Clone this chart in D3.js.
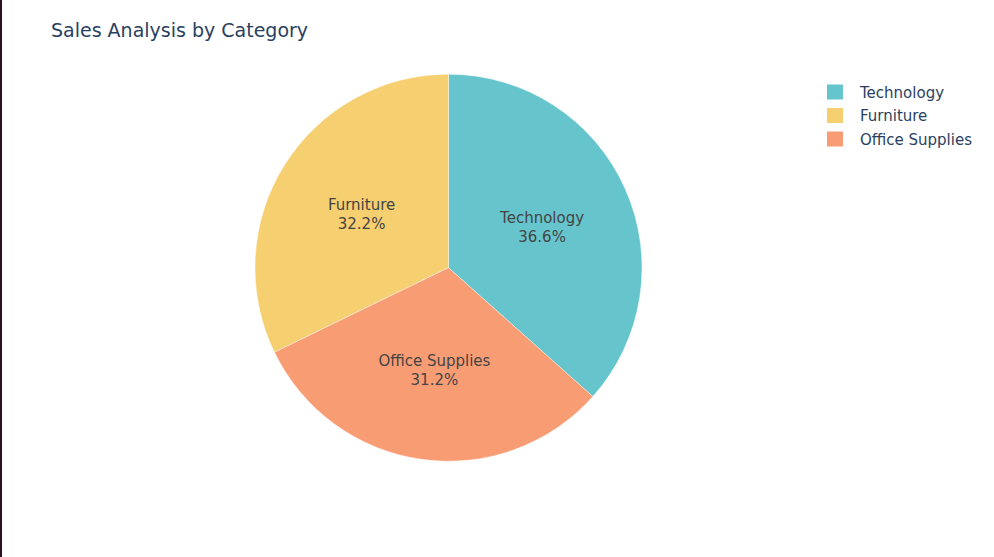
<!DOCTYPE html>
<html>
<head>
<meta charset="utf-8">
<script src="https://cdn.jsdelivr.net/npm/d3@7"></script>
<style>
  html, body { margin: 0; padding: 0; background: #fff; }
  svg { display: block; }
</style>
</head>
<body>
<svg id="main-svg" width="994" height="557"></svg>
<script>
// data, in legend order
var categories = ['Technology', 'Furniture', 'Office Supplies'];
var shares = [36.6, 32.2, 31.2];
var colours = ['#66C5CC', '#F6CF71', '#F89C74'];

var W = 994, H = 557;
var cx = 448.5, cy = 267.7, R = 193.5;
var font = '"DejaVu Sans", Verdana, sans-serif';

var svg = d3.select('#main-svg');

// left border line
svg.append('rect')
    .attr('x', 0).attr('y', 0)
    .attr('width', 2).attr('height', H)
    .attr('fill', '#2e0f1f');

svg.append('text')
    .attr('x', 51).attr('y', 37)
    .attr('font-family', font)
    .attr('font-size', 19)
    .attr('fill', '#2a3f5f')
    .text('Sales Analysis by Category');

var rows = categories.map(function(c, i) {
    return {name: c, value: shares[i], colour: colours[i]};
});

// first slice ends at 12 o'clock, slices go counterclockwise
var total = d3.sum(shares);
var a0 = shares[0] / total * 2 * Math.PI;
var pie = d3.pie()
    .sort(null)
    .value(function(d) { return d.value; })
    .startAngle(a0)
    .endAngle(a0 - 2 * Math.PI);

var arcs = pie(rows);
var arc = d3.arc().innerRadius(0).outerRadius(R);
var labelArc = d3.arc().innerRadius(R * 0.53).outerRadius(R * 0.53);

var g = svg.append('g').attr('transform', 'translate(' + cx + ',' + cy + ')');

g.selectAll('path.slice')
    .data(arcs)
    .enter().append('path')
    .attr('class', 'slice')
    .attr('d', arc)
    .attr('fill', function(d) { return d.data.colour; })
    .attr('stroke', '#fff')
    .attr('stroke-width', 0.4);

var lbl = g.selectAll('text.lbl')
    .data(arcs)
    .enter().append('text')
    .attr('class', 'lbl')
    .attr('text-anchor', 'middle')
    .attr('font-family', font)
    .attr('font-size', 15)
    .attr('fill', '#444');

lbl.append('tspan')
    .attr('x', function(d) { return labelArc.centroid(d)[0]; })
    .attr('y', function(d) { return labelArc.centroid(d)[1] - 3; })
    .text(function(d) { return d.data.name; });
lbl.append('tspan')
    .attr('x', function(d) { return labelArc.centroid(d)[0]; })
    .attr('y', function(d) { return labelArc.centroid(d)[1] + 16; })
    .text(function(d) { return d3.format('.1f')(d.data.value / total * 100) + '%'; });

// legend
var legend = svg.append('g').attr('transform', 'translate(827,92)');
var item = legend.selectAll('g.item')
    .data(rows)
    .enter().append('g')
    .attr('class', 'item')
    .attr('transform', function(d, i) { return 'translate(0,' + (i * 23.5) + ')'; });

item.append('rect')
    .attr('x', 0).attr('y', -7.5)
    .attr('width', 16).attr('height', 15)
    .attr('fill', function(d) { return d.colour; });

item.append('text')
    .attr('x', 33).attr('y', 5.5)
    .attr('font-family', font)
    .attr('font-size', 15)
    .attr('fill', '#2a3f5f')
    .text(function(d) { return d.name; });
</script>
</body>
</html>
